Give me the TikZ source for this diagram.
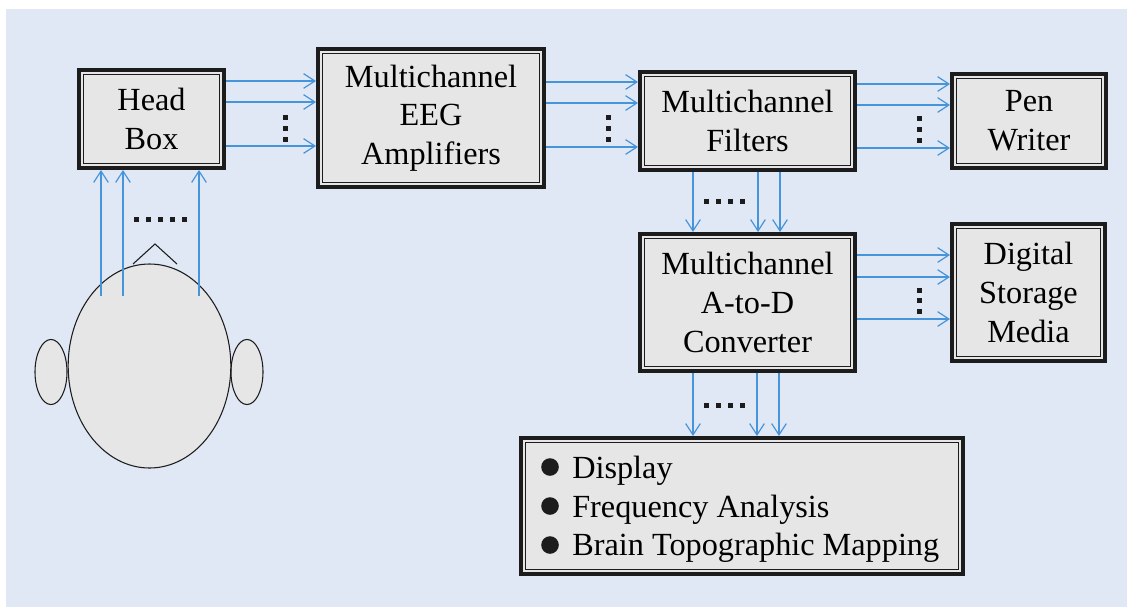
\documentclass[tikz,border=0pt]{standalone}
\usepackage{fontspec}
\setmainfont{Liberation Serif}
\usetikzlibrary{arrows.meta}
\definecolor{bgblue}{RGB}{224,232,245}
\definecolor{boxgray}{RGB}{230,230,231}
\definecolor{sigblue}{RGB}{70,148,218}
\definecolor{ink}{RGB}{28,28,28}

\begin{document}
\begin{tikzpicture}[x=0.75pt,y=-0.75pt,
  blk/.style 2 args={draw=ink, line width=3pt, fill=boxgray, inner sep=0pt,
    minimum width=#1*0.75pt, minimum height=#2*0.75pt, align=center,
    font=\fontsize{24.2pt}{29pt}\selectfont,
    path picture={\draw[ink, line width=1.1pt]
      ([xshift=3.4pt,yshift=-3.4pt]path picture bounding box.north west) rectangle
      ([xshift=-3.4pt,yshift=3.4pt]path picture bounding box.south east);}},
  lst/.style={inner sep=0pt, font=\fontsize{24.2pt}{29pt}\selectfont},
  sig/.style={draw=sigblue, line width=0.9pt,
    -{Straight Barb[length=8.5pt,width=11pt]}},
  headpart/.style={draw=ink, line width=0.8pt, fill=boxgray}
]
% page and panel background
\useasboundingbox (0,0) rectangle (1127,607);
\fill[white] (0,0) rectangle (1127,607);
\fill[bgblue] (6,9) rectangle (1127,607);

% processing blocks
\node[blk={145}{98}]  (hb)   at (151.5,119) {Head\\Box};
\node[blk={226}{138}] (amp)  at (431,118)   {Multichannel\\EEG\\Amplifiers};
\node[blk={215}{98}]  (filt) at (747.5,121) {Multichannel\\Filters};
\node[blk={154}{94}]  (pen)  at (1029,121)  {Pen\\Writer};
\node[blk={215}{137}] (adc)  at (747.5,302.5) {Multichannel\\A-to-D\\Converter};
\node[blk={153}{137}] (dsm)  at (1028.5,292.5) {Digital\\Storage\\Media};
\node[blk={442}{136}] (out)  at (742,506) {};

% output list
\node[lst, anchor=base west] (l1) at (572,478) {Display};
\node[lst, anchor=base west] (l2) at (572,517) {Frequency Analysis};
\node[lst, anchor=base west] (l3) at (572,555) {Brain Topographic Mapping};
\foreach \y in {467,506,545} \fill[ink] (550,\y) circle[radius=6.6pt];

% head seen from above
\draw[headpart] (51,372) ellipse[x radius=12pt, y radius=24.4pt];
\draw[headpart] (247,372) ellipse[x radius=12pt, y radius=24.4pt];
\draw[headpart] (149.5,366) ellipse[x radius=61pt, y radius=76.5pt];
\draw[ink, line width=0.8pt] (133,264) -- (155,244) -- (177,264);

% electrode leads
\coordinate (e1) at (101,296);
\coordinate (e2) at (123,296);
\coordinate (e3) at (199,296);
\foreach \e in {e1,e2,e3} \draw[sig] (\e) -- (\e |- hb.south);

% channel connectors
\foreach \y in {81,102,146}  \draw[sig] (hb.east |- 0,\y)   -- (amp.west |- 0,\y);
\foreach \y in {82,103,147}  \draw[sig] (amp.east |- 0,\y)  -- (filt.west |- 0,\y);
\foreach \y in {84,105,148}  \draw[sig] (filt.east |- 0,\y) -- (pen.west |- 0,\y);
\foreach \y in {255,277,319} \draw[sig] (adc.east |- 0,\y)  -- (dsm.west |- 0,\y);
\foreach \x in {693,758,780} \draw[sig] (filt.south -| \x,0) -- (adc.north -| \x,0);
\foreach \x in {693,757,779} \draw[sig] (adc.south -| \x,0)  -- (out.north -| \x,0);

% ellipsis dots for the remaining channels
\foreach \x/\y in {285/117,285/128,285/139, 608/117,608/128,608/139,
                   919/118,919/129,919/140, 919/290,919/300,919/311}
  \fill[ink] ({\x-2.5},{\y-2.5}) rectangle ++(5,5);
\foreach \x in {136,148,160,172,184}
  \fill[ink] ({\x-2.5},{219-2.5}) rectangle ++(5,5);
\foreach \x in {706,718,730,742}
  \fill[ink] ({\x-2.5},{201-2.5}) rectangle ++(5,5);
\foreach \x in {706,718,730,742}
  \fill[ink] ({\x-2.5},{405-2.5}) rectangle ++(5,5);
\end{tikzpicture}
\end{document}
